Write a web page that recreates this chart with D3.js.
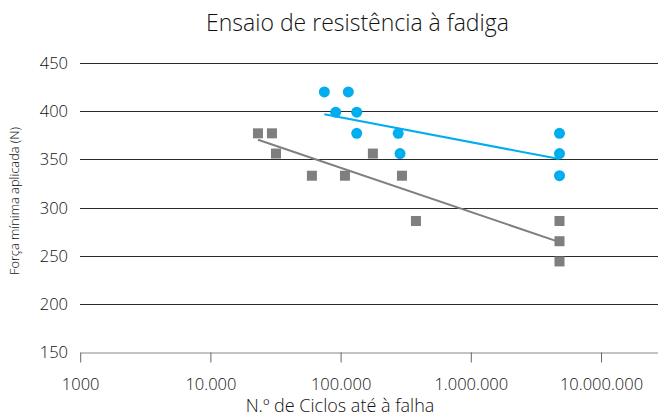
<!DOCTYPE html>
<html><head><meta charset="utf-8">
<script src="https://cdn.jsdelivr.net/npm/d3@7"></script>
<style>
html,body{margin:0;padding:0;background:#fff;}
svg{display:block;font-family:"Open Sans","Noto Sans",sans-serif;}
</style></head>
<body><svg id="c" width="658" height="417"></svg>
<script>
const title = "Ensaio de resistência à fadiga";
const xTitle = "N.º de Ciclos até à falha";
const yTitle = "Força mínima aplicada (N)";
const xTicks = [1000, 10000, 100000, 1000000, 10000000];
const xTickLabels = ["1000", "10.000", "100.000", "1.000.000", "10.000.000"];
const yTicks = [150, 200, 250, 300, 350, 400, 450];
const xDomain = [1000, 27400000];
const yDomain = [150, 450];

const blueCycles = [75000, 114600, 91700, 133000, 133000, 277000, 286000, 4800000, 4800000, 4800000];
const blueForce  = [420, 420, 399, 399, 377, 377, 356, 377, 356, 333];
const grayCycles = [23200, 29700, 31900, 60200, 108000, 177000, 296000, 379000, 4800000, 4800000, 4800000];
const grayForce  = [377, 377, 356, 333, 333, 356, 333, 286, 286, 265, 244];
const blueTrendCycles = [75000, 4800000];
const blueTrendForce  = [396.7, 350.3];
const grayTrendCycles = [23200, 4800000];
const grayTrendForce  = [370.4, 264.1];

const blue = "#00aeef", gray = "#7f7f7f";
const svg = d3.select("#c");
const x = d3.scaleLog().domain(xDomain).range([80.2, 658]);
const y = d3.scaleLinear().domain(yDomain).range([352, 63]);
const txt = "#111";

// gridlines
svg.append("g").selectAll("line").data(yTicks.filter(d => d > 150)).join("line")
  .attr("x1", 80).attr("x2", 658)
  .attr("y1", d => Math.round(y(d)) + 0.5).attr("y2", d => Math.round(y(d)) + 0.5)
  .attr("stroke", "#2b2b2b").attr("stroke-width", 1);

// y labels
svg.append("g").selectAll("text").data(yTicks).join("text")
  .attr("x", 68).attr("y", d => y(d) + 6).attr("text-anchor", "end")
  .attr("font-size", 16.5).attr("font-weight", 300).attr("fill", txt).text(d => d);

// x axis
const xAxis = d3.axisBottom(x).tickValues(xTicks).tickFormat((d, i) => xTickLabels[i])
  .tickSize(10).tickSizeOuter(0);
const gx = svg.append("g").attr("transform", "translate(0," + (Math.round(y(150)) + 0.5) + ")").call(xAxis);
gx.select(".domain").attr("stroke", "#888");
gx.selectAll(".tick line").attr("stroke", "#666");
gx.selectAll(".tick text").attr("font-size", 16.5).attr("font-weight", 300).attr("fill", txt)
  .attr("font-family", "'Open Sans','Noto Sans',sans-serif").attr("y", 0).attr("dy", 0)
  .attr("transform", "translate(0,37)");

// trend lines
const line = d3.line().x(d => x(d[0])).y(d => y(d[1]));
svg.append("path").datum(blueTrendCycles.map((c, i) => [c, blueTrendForce[i]]))
  .attr("d", line).attr("stroke", blue).attr("stroke-width", 2).attr("fill", "none");
svg.append("path").datum(grayTrendCycles.map((c, i) => [c, grayTrendForce[i]]))
  .attr("d", line).attr("stroke", gray).attr("stroke-width", 2).attr("fill", "none");

// points
svg.append("g").selectAll("rect").data(grayCycles.map((c, i) => [c, grayForce[i]])).join("rect")
  .attr("x", d => x(d[0]) - 5).attr("y", d => y(d[1]) - 5).attr("width", 10).attr("height", 10)
  .attr("fill", gray);
svg.append("g").selectAll("circle").data(blueCycles.map((c, i) => [c, blueForce[i]])).join("circle")
  .attr("cx", d => x(d[0])).attr("cy", d => y(d[1])).attr("r", 5.5).attr("fill", blue);

// titles
svg.append("text").attr("x", 357.5).attr("y", 31).attr("text-anchor", "middle")
  .attr("font-size", 23).attr("font-weight", 300).attr("fill", txt).text(title);
svg.append("text").attr("x", 340).attr("y", 412).attr("text-anchor", "middle")
  .attr("font-size", 18).attr("font-weight", 300).attr("fill", txt).text(xTitle);
svg.append("text").attr("transform", "translate(19,201) rotate(-90)").attr("text-anchor", "middle")
  .attr("font-size", 12.8).attr("font-weight", 300).attr("fill", txt).text(yTitle);
</script></body></html>
